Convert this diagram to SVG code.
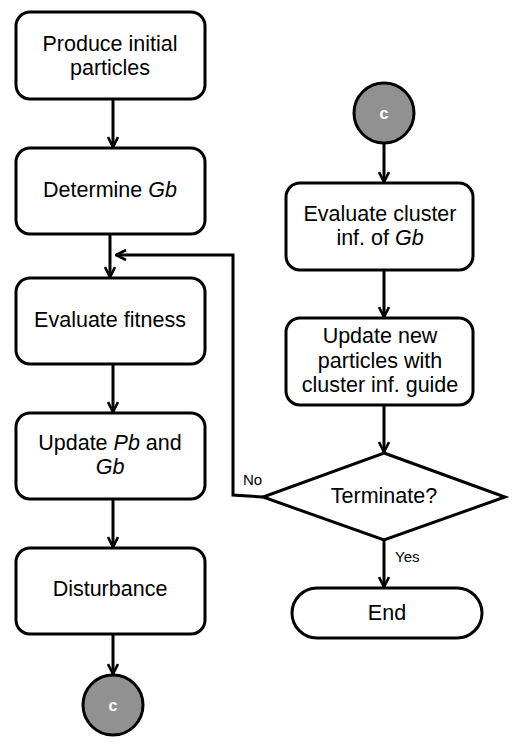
<svg xmlns="http://www.w3.org/2000/svg" width="530" height="752" viewBox="0 0 530 752">
<style>
.box{fill:#fff;stroke:#000;stroke-width:3}
.t{font-family:"Liberation Sans",Arial,sans-serif;font-size:21.5px;fill:#000;text-anchor:middle}
.s{font-family:"Liberation Sans",Arial,sans-serif;font-size:15px;fill:#000}
.c{fill:#919191;stroke:#000;stroke-width:3}
.ct{font-family:"Liberation Sans",Arial,sans-serif;font-size:16px;fill:#fff;text-anchor:middle;font-weight:bold}
.e{stroke:#000;stroke-width:3;fill:none}
</style>
<defs>
<marker id="a" viewBox="0 0 12 12" refX="11" refY="6" markerWidth="12" markerHeight="12" markerUnits="userSpaceOnUse" orient="auto">
<path d="M1,1 L11,6 L1,11" fill="none" stroke="#000" stroke-width="2.6"/>
</marker>
</defs>
<rect width="530" height="752" fill="#fff"/>
<g id="n1"><rect class="box" x="16" y="12" width="189" height="87" rx="14"/><text class="t" x="110" y="51">Produce initial</text><text class="t" x="110" y="75">particles</text></g>
<g id="n2"><rect class="box" x="16" y="148" width="189" height="86" rx="14"/><text class="t" x="110" y="197">Determine <tspan font-style="italic">Gb</tspan></text></g>
<g id="n3"><rect class="box" x="16" y="278" width="189" height="86" rx="14"/><text class="t" x="110" y="327">Evaluate fitness</text></g>
<g id="n4"><rect class="box" x="16" y="413" width="189" height="86" rx="14"/><text class="t" x="110" y="450">Update <tspan font-style="italic">Pb</tspan> and</text><text class="t" x="110" y="474" font-style="italic">Gb</text></g>
<g id="n5"><rect class="box" x="16" y="548" width="189" height="86" rx="14"/><text class="t" x="110" y="596">Disturbance</text></g>
<g id="c1"><circle class="c" cx="113" cy="705" r="30"/><text class="ct" x="113" y="711">c</text></g>
<g id="c2"><circle class="c" cx="384" cy="113" r="30"/><text class="ct" x="384" y="119">c</text></g>
<g id="n6"><rect class="box" x="286" y="183" width="187" height="87" rx="14"/><text class="t" x="380" y="221">Evaluate cluster</text><text class="t" x="380" y="245">inf. of <tspan font-style="italic">Gb</tspan></text></g>
<g id="n7"><rect class="box" x="286" y="318" width="187" height="87" rx="14"/><text class="t" x="380" y="343">Update new</text><text class="t" x="380" y="368">particles with</text><text class="t" x="380" y="392">cluster inf. guide</text></g>
<g id="d1"><polygon class="box" points="384,453 505,497 384,540 263,497"/><text class="t" x="384" y="503">Terminate?</text></g>
<g id="end"><rect class="box" x="292" y="588" width="190" height="50" rx="25"/><text class="t" x="387" y="620">End</text></g>
<g id="edges">
<line class="e" x1="113" y1="99" x2="113" y2="147" marker-end="url(#a)"/>
<line class="e" x1="110" y1="234" x2="110" y2="277" marker-end="url(#a)"/>
<line class="e" x1="113" y1="364" x2="113" y2="412" marker-end="url(#a)"/>
<line class="e" x1="113" y1="499" x2="113" y2="547" marker-end="url(#a)"/>
<line class="e" x1="113" y1="634" x2="113" y2="674" marker-end="url(#a)"/>
<line class="e" x1="384" y1="143" x2="384" y2="182" marker-end="url(#a)"/>
<line class="e" x1="384" y1="270" x2="384" y2="317" marker-end="url(#a)"/>
<line class="e" x1="384" y1="405" x2="384" y2="452" marker-end="url(#a)"/>
<line class="e" x1="384" y1="540" x2="384" y2="587" marker-end="url(#a)"/>
<path class="e" d="M263,497 L233,495 L233,255 L116,255" marker-end="url(#a)"/>
<text class="s" x="243" y="485">No</text>
<text class="s" x="395" y="562">Yes</text>
</g>
</svg>
